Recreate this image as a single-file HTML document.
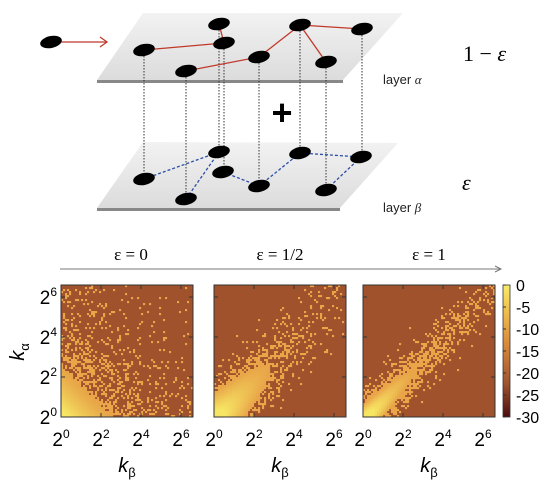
<!DOCTYPE html>
<html><head><meta charset="utf-8"><style>
body{margin:0;background:#fff;width:550px;height:486px;overflow:hidden;font-family:"Liberation Sans",sans-serif}
svg{position:absolute;left:0;top:0}
</style></head><body>
<svg id="fig" width="550" height="486" viewBox="0 0 550 486">
<defs>
<linearGradient id="plane" x1="0" y1="0" x2="0" y2="1"><stop offset="0" stop-color="#f2f2f2"/><stop offset="1" stop-color="#dcdcdc"/></linearGradient>
<linearGradient id="cbar" x1="0" y1="0" x2="0" y2="1">
<stop offset="0" stop-color="#f7ec6a"/><stop offset="0.2" stop-color="#efbd4c"/><stop offset="0.45" stop-color="#d8893a"/><stop offset="0.75" stop-color="#a0522d"/><stop offset="1" stop-color="#4a0d0d"/></linearGradient>
</defs>
<g>
<polygon points="97,80 343,80 343,83 97,83" fill="#888"/>
<polygon points="143,13 403,13 343,80 97,80" fill="url(#plane)"/>
<text x="383" y="84" font-size="13" fill="#222">layer <tspan font-family="Liberation Serif" font-style="italic">α</tspan></text>
</g>
<g>
<polygon points="97,208 340,208 340,211 97,211" fill="#888"/>
<polygon points="143,142 398,143 340,208 97,208" fill="url(#plane)"/>
<text x="383" y="212" font-size="13" fill="#222">layer <tspan font-family="Liberation Serif" font-style="italic">β</tspan></text>
</g>
<g stroke="#333" stroke-width="1" stroke-dasharray="1.5,1.5">
<line x1="144" y1="50" x2="144" y2="179"/><line x1="186" y1="71" x2="186" y2="199"/>
<line x1="219" y1="24" x2="219" y2="152"/><line x1="224" y1="43" x2="224" y2="172"/>
<line x1="259" y1="57" x2="259" y2="186"/><line x1="300" y1="25" x2="300" y2="153"/>
<line x1="326" y1="62" x2="326" y2="190"/><line x1="362" y1="29" x2="362" y2="157"/>
</g>
<g stroke="#c0392b" stroke-width="1.3">
<line x1="144" y1="50" x2="224" y2="43"/><line x1="219" y1="24" x2="224" y2="43"/>
<line x1="186" y1="71" x2="259" y2="57"/><line x1="259" y1="57" x2="300" y2="25"/>
<line x1="300" y1="25" x2="362" y2="29"/><line x1="300" y1="25" x2="326" y2="62"/>
<line x1="51" y1="42" x2="107" y2="42"/><polyline points="100,37 107,42 100,47" fill="none"/>
</g>
<g stroke="#2c4fa8" stroke-width="1.3" stroke-dasharray="3,2">
<line x1="144" y1="179" x2="219" y2="152"/><line x1="186" y1="199" x2="219" y2="152"/>
<line x1="223" y1="172" x2="259" y2="186"/><line x1="259" y1="186" x2="300" y2="153"/>
<line x1="300" y1="153" x2="361" y2="157"/><line x1="361" y1="157" x2="326" y2="190"/>
</g>
<g id="nodes" fill="#000"></g>
<text x="282" y="125" font-size="36" font-weight="bold" text-anchor="middle">+</text>
<text x="463" y="61" font-size="22" font-family="Liberation Serif">1 − <tspan font-style="italic">ε</tspan></text>
<text x="462" y="190" font-size="22" font-family="Liberation Serif" font-style="italic">ε</text>
<g>
<line x1="60" y1="269" x2="500" y2="269" stroke="#777" stroke-width="1"/>
<polyline points="495,266 501,269 495,272" fill="none" stroke="#777"/>
</g>
<g id="panels"></g>
<g>
<rect x="503" y="285" width="7" height="132" fill="url(#cbar)" stroke="#333" stroke-width="0.8"/>
<g id="cbticks"></g>
</g>
<text transform="translate(24,352) rotate(-90)" font-size="20" text-anchor="middle"><tspan font-style="italic">k</tspan><tspan font-size="13" dy="5">α</tspan></text>
</svg>
<script>
const NS="http://www.w3.org/2000/svg";
function mk(t,a,p){const e=document.createElementNS(NS,t);for(const k in a)e.setAttribute(k,a[k]);p.appendChild(e);return e;}
const nodeList=[[219,24],[144,50],[224,43],[300,25],[362,29],[259,57],[326,62],[186,71],[51,42],
[219,152],[144,179],[186,199],[223,172],[259,186],[300,153],[361,157],[326,190]];
const ng=document.getElementById('nodes');
nodeList.forEach(n=>{const e=mk('ellipse',{cx:n[0],cy:n[1],rx:11,ry:6,transform:`rotate(-12 ${n[0]} ${n[1]})`},ng);

});

// chart data
const panelTitles=["ε = 0","ε = 1/2","ε = 1"];
const bandWidth=[100,0.75,0.5];
const decayRate=[0.36,0.23,0.17];
const smoothThreshold=[0.4,0.3,0.45];
const speckleGain=[1.5,2,2];
const xTickExps=[0,2,4,6];
const yTickExps=[0,2,4,6];
const cbLabels=["0","-5","-10","-15","-20","-25","-30"];

const panelX=[61,214,363], PT=285, PS=132, MAXE=6.6;
const sx=(x0,e)=>x0+e/MAXE*PS, sy=e=>PT+PS-e/MAXE*PS;
function hash(i,j,k){let h=(i*374761393+j*668265263+k*2147483647)|0;h=Math.imul(h^(h>>>13),1274126177);h^=h>>>16;return (h>>>0)/4294967296;}
function mixc(a,b,t){return `rgb(${a.map((v,i)=>Math.round(v+(b[i]-v)*t)).join(',')})`;}
const Y=[247,230,100],O=[232,165,72];
const pg=document.getElementById('panels');
panelX.forEach((x0,k)=>{
  const g=mk('g',{},pg);
  
  
  const bg=mk('rect',{x:x0,y:PT,width:PS,height:PS,fill:'#a0522d'},g);
  
  
  const cells=mk('g',{},g);
  
  
  const N=66,c=PS/N;
  for(let i=0;i<N;i++)for(let j=0;j<N;j++){
    const x=(i+0.5)/N*MAXE,y=(j+0.5)/N*MAXE;
    const d=(y-x+0.2*Math.min(k,1))/Math.SQRT2,w=bandWidth[k];
    const q=Math.exp(-decayRate[k]*(x+y))*Math.exp(-d*d/(2*w*w));
    const th=smoothThreshold[k];
    let col=null;
    if(q>th){col=mixc(O,Y,Math.min(1,(q-th)/(1-th)*1.3));}
    else if(hash(i,j,k)<q*speckleGain[k]){col='#e9a548';}
    if(col){mk('rect',{x:(x0+i*c).toFixed(2),y:(PT+PS-(j+1)*c).toFixed(2),width:(c+0.1).toFixed(2),height:(c+0.1).toFixed(2),fill:col},cells);}
  }
  const fr=mk('rect',{x:x0,y:PT,width:PS,height:PS,fill:'none',stroke:'#333','stroke-width':1},g);
  
  
  xTickExps.forEach(e=>{const X=sx(x0,e);
    mk('line',{x1:X,y1:PT+PS,x2:X,y2:PT+PS-4,stroke:'#333'},g);mk('line',{x1:X,y1:PT,x2:X,y2:PT+4,stroke:'#333'},g);
    const t=mk('text',{x:X,y:446,'font-size':19,'text-anchor':'middle'},g);
    
    
    t.innerHTML=`2<tspan font-size="12" dy="-8">${e}</tspan>`;});
  yTickExps.forEach(e=>{const Yp=sy(e);
    mk('line',{x1:x0,y1:Yp,x2:x0+4,y2:Yp,stroke:'#333'},g);mk('line',{x1:x0+PS,y1:Yp,x2:x0+PS-4,y2:Yp,stroke:'#333'},g);
    if(k===0){const t=mk('text',{x:x0-4,y:Yp+7,'font-size':19,'text-anchor':'end'},g);
      
      
      t.innerHTML=`2<tspan font-size="12" dy="-8">${e}</tspan>`;}});
  const xl=mk('text',{x:x0+PS/2,y:472,'font-size':20,'text-anchor':'middle'},g);
  
  
  xl.innerHTML=`<tspan font-style="italic">k</tspan><tspan font-size="13" dy="5">β</tspan>`;
  const tt=mk('text',{x:x0+PS/2+(k===0?4:0),y:260,'font-size':17,'text-anchor':'middle','font-family':'Liberation Serif'},g);
  
  
  tt.textContent=panelTitles[k];
});
const cg=document.getElementById('cbticks');
cbLabels.forEach((l,i)=>{const Yp=285+i*132/(cbLabels.length-1);
  mk('line',{x1:503,y1:Yp,x2:506,y2:Yp,stroke:'#333'},cg);
  const t=mk('text',{x:516,y:Yp+6,'font-size':16},cg);
  
  
  t.textContent=l;});
</script>
</body></html>
